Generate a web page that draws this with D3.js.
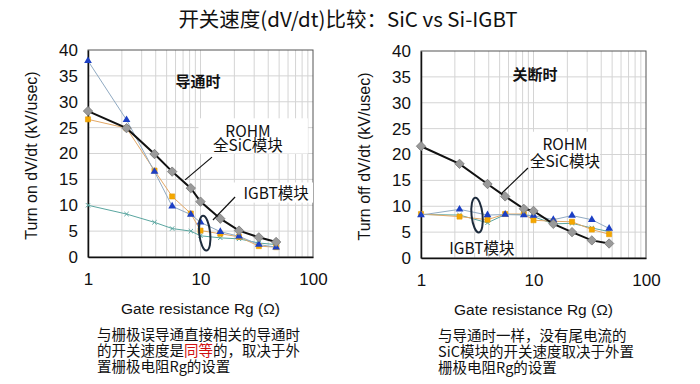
<!DOCTYPE html>
<html>
<head>
<meta charset="utf-8">
<script src="https://cdn.jsdelivr.net/npm/d3@7"></script>
<style>
  body { margin: 0; background: #fff; }
  svg text { fill: #111; }
</style>
</head>
<body>
<svg id="chart" width="700" height="384"></svg>
<script>
// gate resistance values (ohm), shared by both panels
const rg = [1, 2.2, 3.9, 5.6, 8.2, 10, 15, 22, 33, 47];

// turn on dV/dt (kV/usec)
const onSiC = [28.2, 24.9, 19.9, 16.5, 13.3, 10.7, 7.4, 5.1, 3.8, 2.9];
const onIgbtA = [37.9, 26.5, 16.5, 9.8, 8.2, 6.7, 4.9, 4.0, 2.4, 1.9];
const onIgbtB = [26.6, 24.9, 16.7, 11.7, 8.4, 5.1, 4.5, 3.9, 2.1, 1.9];
const onIgbtC = [10.0, 8.3, 6.7, 5.5, 5.0, 4.1, 3.7, 3.5, 2.7, 2.4];

// turn off dV/dt (kV/usec)
const offSiC = [21.6, 18.2, 14.3, 11.9, 9.5, 9.1, 6.6, 5.0, 3.4, 2.8];
const offIgbtA = [8.3, 9.4, 8.3, 8.4, 8.3, 8.2, 7.4, 8.2, 7.4, 5.7];
const offIgbtB = [8.5, 8.0, 7.4, 8.5, 8.5, 7.3, 7.1, 7.0, 5.5, 4.6];
const offIgbtC = [8.4, 8.3, 6.8, 8.4, 8.4, 8.0, 6.6, 6.7, 5.8, 5.1];

const yTicks = [0, 5, 10, 15, 20, 25, 30, 35, 40];
const xTicks = [1, 10, 100];

const latin = "'Liberation Sans', Arial, sans-serif";
const cjk = "'Noto Sans CJK SC', 'Noto Sans', sans-serif";

var svg = d3.select("#chart");

svg.append("text")
  .attr("x", 348).attr("y", 27)
  .attr("text-anchor", "middle")
  .style("font-family", cjk)
  .style("font-size", "20.5px")
  .text("开关速度(dV/dt)比较：SiC vs Si-IGBT");

function drawPanel(cfg) {
  var x = d3.scaleLog().domain([1, 100]).range([cfg.left, cfg.left + 225]);
  var y = d3.scaleLinear().domain([0, 40]).range([cfg.bottom, cfg.bottom - 207]);
  var g = svg.append("g");

  // grid
  var minor = [];
  [1, 10].forEach(d => { for (var k = 2; k <= 9; k++) minor.push(d * k); });
  g.selectAll(".vgrid").data(minor.concat([10])).enter().append("line")
    .attr("x1", d => x(d)).attr("x2", d => x(d))
    .attr("y1", y(0)).attr("y2", y(40))
    .attr("stroke", "#d4d4d4").attr("stroke-width", 1);
  g.selectAll(".hgrid").data(yTicks.slice(1, -1)).enter().append("line")
    .attr("x1", x(1)).attr("x2", x(100))
    .attr("y1", d => y(d)).attr("y2", d => y(d))
    .attr("stroke", "#d4d4d4").attr("stroke-width", 1);

  // frame
  g.append("rect")
    .attr("x", x(1)).attr("y", y(40))
    .attr("width", x(100) - x(1)).attr("height", y(0) - y(40))
    .attr("fill", "none").attr("stroke", "#555").attr("stroke-width", 1);

  var yAxis = g.append("g")
    .attr("transform", `translate(${x(1)},0)`)
    .call(d3.axisLeft(y).tickValues(yTicks).tickSize(0).tickPadding(10));
  yAxis.select(".domain").attr("stroke", "#111").attr("stroke-width", 1.5);
  yAxis.selectAll("text").style("font-family", latin).style("font-size", "17px").attr("fill", "#111");

  var xAxis = g.append("g")
    .attr("transform", `translate(0,${y(0)})`)
    .call(d3.axisBottom(x).tickValues(xTicks).tickFormat(d3.format("d")).tickSize(0).tickPadding(16));
  xAxis.select(".domain").attr("stroke", "#111").attr("stroke-width", 1.5);
  xAxis.selectAll("text").style("font-family", latin).style("font-size", "17px").attr("fill", "#111");

  svg.append("text")
    .attr("transform", `translate(${cfg.left - 51},${y(20) + 2}) rotate(-90)`)
    .attr("text-anchor", "middle")
    .style("font-family", latin).style("font-size", "16px")
    .text(cfg.yTitle);

  svg.append("text")
    .attr("x", (x(1) + x(100)) / 2).attr("y", cfg.bottom + 57)
    .attr("text-anchor", "middle")
    .style("font-family", latin).style("font-size", "15.5px")
    .text("Gate resistance Rg (Ω)");

  // white label boxes behind annotation text
  cfg.boxes.forEach(b => {
    g.append("rect")
      .attr("x", x(b[0])).attr("y", y(b[3]))
      .attr("width", x(b[1]) - x(b[0])).attr("height", y(b[2]) - y(b[3]))
      .attr("fill", "#fff");
  });

  var line = d3.line().x((d, i) => x(rg[i])).y(d => y(d));

  var series = [
    { v: cfg.c, stroke: "#5aa6a0", w: 1, mark: "x", fill: "#5aa6a0" },
    { v: cfg.b, stroke: "#e3a866", w: 1, mark: "square", fill: "#f5a800" },
    { v: cfg.a, stroke: "#90aac2", w: 1, mark: "triangle", fill: "#1c3fc4" },
    { v: cfg.sic, stroke: "#111", w: 2, mark: "diamond", fill: "#9a9a9a" }
  ];

  series.forEach(s => {
    g.append("path").datum(s.v)
      .attr("d", line)
      .attr("fill", "none").attr("stroke", s.stroke).attr("stroke-width", s.w);
    var pts = g.selectAll(null).data(s.v).enter().append("path")
      .attr("transform", (d, i) => `translate(${x(rg[i])},${y(d)})`);
    if (s.mark === "diamond") {
      pts.attr("d", d3.symbol(d3.symbolDiamond2, 56)).attr("fill", s.fill).attr("stroke", "#777").attr("stroke-width", 0.8);
    } else if (s.mark === "triangle") {
      pts.attr("d", d3.symbol(d3.symbolTriangle, 26)).attr("fill", s.fill);
    } else if (s.mark === "square") {
      pts.attr("d", d3.symbol(d3.symbolSquare, 26)).attr("fill", s.fill).attr("stroke", "#e89a00").attr("stroke-width", 0.6);
    } else {
      pts.attr("d", d3.symbol(d3.symbolX, 14)).attr("fill", "none").attr("stroke", s.fill).attr("stroke-width", 1);
    }
  });

  // leader lines
  cfg.leaders.forEach(l => {
    g.append("line")
      .attr("x1", x(l[0])).attr("y1", y(l[1]))
      .attr("x2", x(l[2])).attr("y2", y(l[3]))
      .attr("stroke", "#111").attr("stroke-width", 1.2);
  });

  // loop around the IGBT curves
  g.append("ellipse")
    .attr("cx", x(cfg.loop[0])).attr("cy", y(cfg.loop[1]))
    .attr("rx", 5.5).attr("ry", 17.5)
    .attr("transform", `rotate(-6,${x(cfg.loop[0])},${y(cfg.loop[1])})`)
    .attr("fill", "none").attr("stroke", "#1d2b3c").attr("stroke-width", 2);

  cfg.labels.forEach(t => {
    g.append("text")
      .attr("x", x(t.x)).attr("y", y(t.y))
      .attr("text-anchor", "middle")
      .attr("dominant-baseline", "central")
      .style("font-family", cjk)
      .style("font-size", t.size + "px")
      .style("font-weight", t.bold ? "bold" : "normal")
      .text(t.text);
  });

  // description under the panel
  var desc = svg.append("text")
    .attr("x", cfg.descX).attr("y", cfg.bottom + 83)
    .style("font-family", cjk).style("font-size", "14.5px");
  cfg.desc.forEach((parts, i) => {
    parts.forEach((p, j) => {
      var ts = desc.append("tspan").text(p.t).style("fill", p.red ? "#d01010" : "#111");
      if (j === 0) ts.attr("x", cfg.descX).attr("dy", i === 0 ? 0 : 16);
    });
  });
}

drawPanel({
  left: 88, bottom: 257,
  yTitle: "Turn on dV/dt (kV/usec)",
  sic: onSiC, a: onIgbtA, b: onIgbtB, c: onIgbtC,
  boxes: [[9.6, 90, 20.0, 26.8], [15.8, 100, 10.5, 14.4]],
  leaders: [[12.65, 19.3, 7.3, 14.9], [20.3, 11.6, 12.9, 7.15]],
  loop: [10.9, 4.6],
  labels: [
    { x: 9.5, y: 34.2, text: "导通时", size: 15, bold: true },
    { x: 26.4, y: 24.6, text: "ROHM", size: 15.5 },
    { x: 26.4, y: 21.8, text: "全SiC模块", size: 15.5 },
    { x: 47, y: 12.6, text: "IGBT模块", size: 15.5 }
  ],
  descX: 97,
  desc: [
    [{ t: "与栅极误导通直接相关的导通时" }],
    [{ t: "的开关速度是" }, { t: "同等", red: true }, { t: "的，取决于外" }],
    [{ t: "置栅极电阻Rg的设置" }]
  ]
});

drawPanel({
  left: 421, bottom: 258,
  yTitle: "Turn off dV/dt (kV/usec)",
  sic: offSiC, a: offIgbtA, b: offIgbtB, c: offIgbtC,
  boxes: [[9.3, 39, 17.6, 24.4], [2.3, 5.2, 1.0, 3.4]],
  leaders: [[8.93, 17.4, 5.25, 12.56]],
  loop: [3.15, 8.3],
  labels: [
    { x: 10.3, y: 35.7, text: "关断时", size: 15, bold: true },
    { x: 19.05, y: 22.3, text: "ROHM", size: 15.5 },
    { x: 19.05, y: 19.0, text: "全SiC模块", size: 15.5 },
    { x: 3.48, y: 2.1, text: "IGBT模块", size: 15.5 }
  ],
  descX: 438,
  desc: [
    [{ t: "与导通时一样，没有尾电流的" }],
    [{ t: "SiC模块的开关速度取决于外置" }],
    [{ t: "栅极电阻Rg的设置" }]
  ]
});
</script>
</body>
</html>
